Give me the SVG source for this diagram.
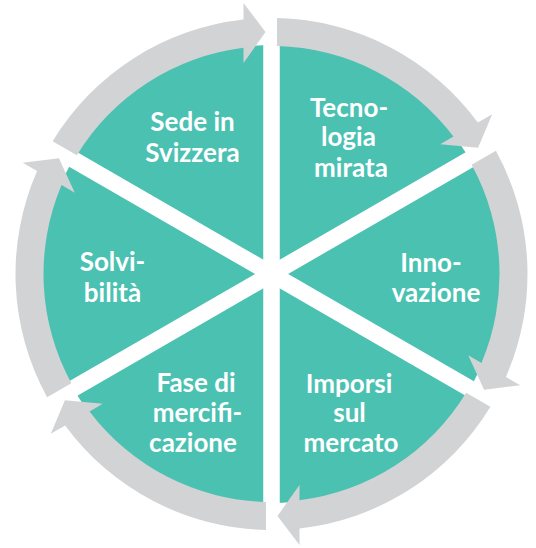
<svg xmlns="http://www.w3.org/2000/svg" width="536" height="548" viewBox="0 0 536 548">
  <defs>
    <style>
      .disc { fill: #4BC1B2; }
      .sep { stroke: #FFFFFF; stroke-width: 16.5; }
      .arrow { fill: #D2D3D5; }
      .lbl { font-family: Lato, "Liberation Sans", sans-serif; font-weight: 700; font-size: 26px; fill: #FFFFFF; text-anchor: middle; }
    </style>
    <path id="arc" class="arrow" d="M -218.89 -132.73 A 256 256 0 0 1 -28 -254.46 L -28 -271 L -6 -242 L -28 -211 L -28 -226.27 A 228 228 0 0 0 -194.64 -118.73 Z"/>
  </defs>
  <rect width="536" height="548" fill="#FFFFFF"/>
  <g id="disc" transform="translate(271.5 274)">
    <circle class="disc" r="229"/>
    <line class="sep" x1="0" y1="-232" x2="0" y2="232"/>
    <line class="sep" x1="-200.9" y1="-116" x2="200.9" y2="116"/>
    <line class="sep" x1="-200.9" y1="116" x2="200.9" y2="-116"/>
  </g>
  <g id="connectors" transform="translate(271.5 274)">
    <use href="#arc"/>
    <use href="#arc" transform="rotate(60)"/>
    <use href="#arc" transform="rotate(120)"/>
    <use href="#arc" transform="rotate(180)"/>
    <use href="#arc" transform="rotate(240)"/>
    <use href="#arc" transform="rotate(300)"/>
  </g>
  <g id="node-sede">
    <text class="lbl" x="192.5" y="130.5">Sede in</text>
    <text class="lbl" x="192.5" y="162">Svizzera</text>
  </g>
  <g id="node-tecnologia">
    <text class="lbl" x="349" y="116.5">Tecno-</text>
    <text class="lbl" x="348.5" y="146">logia</text>
    <text class="lbl" x="351" y="176.5">mirata</text>
  </g>
  <g id="node-innovazione">
    <text class="lbl" x="431" y="271.5">Inno-</text>
    <text class="lbl" x="436" y="301.5">vazione</text>
  </g>
  <g id="node-imporsi">
    <text class="lbl" x="349" y="392.5">Imporsi</text>
    <text class="lbl" x="349.5" y="422">sul</text>
    <text class="lbl" x="351" y="452">mercato</text>
  </g>
  <g id="node-fase">
    <text class="lbl" x="196" y="391.5">Fase di</text>
    <text class="lbl" x="197.5" y="421.5">mercifi-</text>
    <text class="lbl" x="193" y="451.5">cazione</text>
  </g>
  <g id="node-solvibilita">
    <text class="lbl" x="112.5" y="271">Solvi-</text>
    <text class="lbl" x="112.5" y="302">bilità</text>
  </g>
</svg>
